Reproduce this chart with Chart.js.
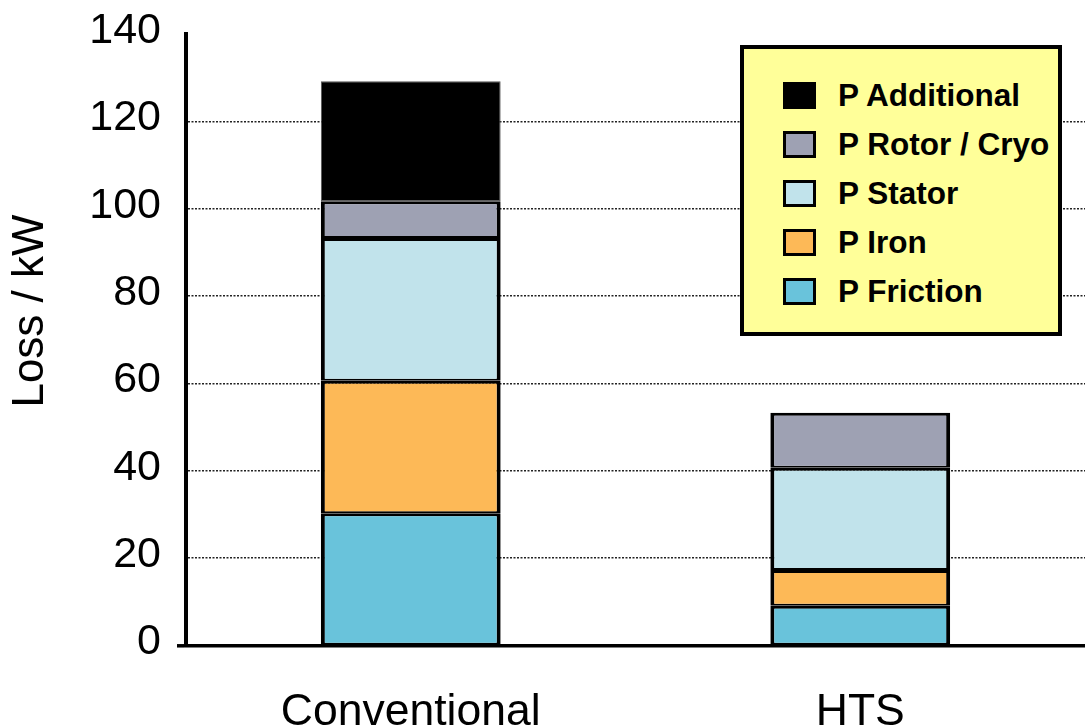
<!DOCTYPE html>
<html>
<head>
<meta charset="utf-8">
<title>Loss / kW</title>
<script src="https://cdn.jsdelivr.net/npm/chart.js@4.4.1/dist/chart.umd.min.js"></script>
<style>
  body { margin: 0; background: #fff; }
  #wrap { position: relative; width: 1085px; height: 726px; }
  #legend {
    position: absolute; left: 740px; top: 45px;
    width: 314px; height: 283px;
    background: #ffff99; border: 4px solid #000;
    font: bold 31.5px "Liberation Sans", Arial, sans-serif; color: #000;
  }
  #legend .row { position: absolute; left: 39px; height: 49px; display: flex; align-items: center; white-space: nowrap; }
  #legend .sw { width: 27px; height: 21px; border: 3px solid #000; margin-right: 22px; }
</style>
</head>
<body>
<div id="wrap">
  <canvas id="lossChart" width="1085" height="726"></canvas>
  <div id="legend"></div>
</div>
<script>
// machine types
const categories = ['Conventional', 'HTS'];

// loss components in kW, bottom of the stack first
const friction = [30.3, 9.1];
const iron = [30.3, 8.2];
const stator = [32.7, 23.4];
const rotorCryo = [8.4, 12.6];
const additional = [27.5, null];

const seriesNames = ['P Friction', 'P Iron', 'P Stator', 'P Rotor / Cryo', 'P Additional'];
const seriesColors = ['#69c3db', '#fdb957', '#c1e3eb', '#9ea1b3', '#000000'];

const FONT = '"Liberation Sans", Arial, sans-serif';

function makeDataset(i, values) {
  const isTop = i === 4;
  return {
    label: seriesNames[i],
    data: values,
    backgroundColor: seriesColors[i],
    borderColor: isTop ? '#555' : '#000',
    borderWidth: isTop ? 1 : { left: 4, right: 4, top: 3, bottom: 2 },
    borderSkipped: false,
    categoryPercentage: 1.0,
    barPercentage: 0.4
  };
}

// rotated y axis title, sits a little above the middle of the axis
const yTitlePlugin = {
  id: 'yTitle',
  afterDraw(chart) {
    const ctx = chart.ctx;
    ctx.save();
    ctx.translate(31, 311);
    ctx.rotate(-Math.PI / 2);
    ctx.font = '44px ' + FONT;
    ctx.fillStyle = '#000';
    ctx.textAlign = 'center';
    ctx.textBaseline = 'middle';
    ctx.fillText('Loss / kW', 0, 0);
    ctx.restore();
  }
};

const chart = new Chart(document.getElementById('lossChart'), {
  type: 'bar',
  data: {
    labels: categories,
    datasets: [
      makeDataset(0, friction),
      makeDataset(1, iron),
      makeDataset(2, stator),
      makeDataset(3, rotorCryo),
      makeDataset(4, additional)
    ]
  },
  options: {
    responsive: false,
    animation: false,
    layout: { padding: { top: 34, right: 0, bottom: 0, left: 0 } },
    plugins: {
      legend: { display: false },
      tooltip: { enabled: false }
    },
    scales: {
      x: {
        stacked: true,
        grid: { display: false, drawTicks: false },
        border: { display: true, color: '#000', width: 3.5 },
        ticks: { color: '#000', padding: 41, font: { family: FONT, size: 44.5 } },
        afterFit(scale) { scale.height = 80.5; }
      },
      y: {
        stacked: true,
        min: 0,
        max: 140,
        ticks: { stepSize: 20, color: '#000', padding: 16, labelOffset: -3, font: { family: FONT, size: 43 } },
        grid: {
          color: ctx => (ctx.tick && ctx.tick.value > 0 && ctx.tick.value < 140) ? '#222' : 'transparent',
          lineWidth: 1.6,
          tickLength: 9,
          tickWidth: 3.5,
          tickColor: ctx => (ctx.tick && ctx.tick.value === 0) ? '#000' : 'transparent'
        },
        border: { display: true, color: '#000', width: 4, dash: [2, 1.5] },
        afterFit(scale) {
          scale.width = 186;
          scale.paddingTop = 0;
          scale.paddingBottom = 0;
        }
      }
    }
  },
  plugins: [yTitlePlugin]
});

// legend box, listed top of the stack first
function buildLegend() {
  const box = document.getElementById('legend');
  const sets = chart.data.datasets.slice().reverse();
  sets.forEach((ds, i) => {
    const row = document.createElement('div');
    row.className = 'row';
    row.style.top = (22 + i * 49) + 'px';
    const sw = document.createElement('span');
    sw.className = 'sw';
    sw.style.background = ds.backgroundColor;
    const txt = document.createElement('span');
    txt.textContent = ds.label;
    row.appendChild(sw);
    row.appendChild(txt);
    box.appendChild(row);
  });
}

buildLegend();
</script>
</body>
</html>
